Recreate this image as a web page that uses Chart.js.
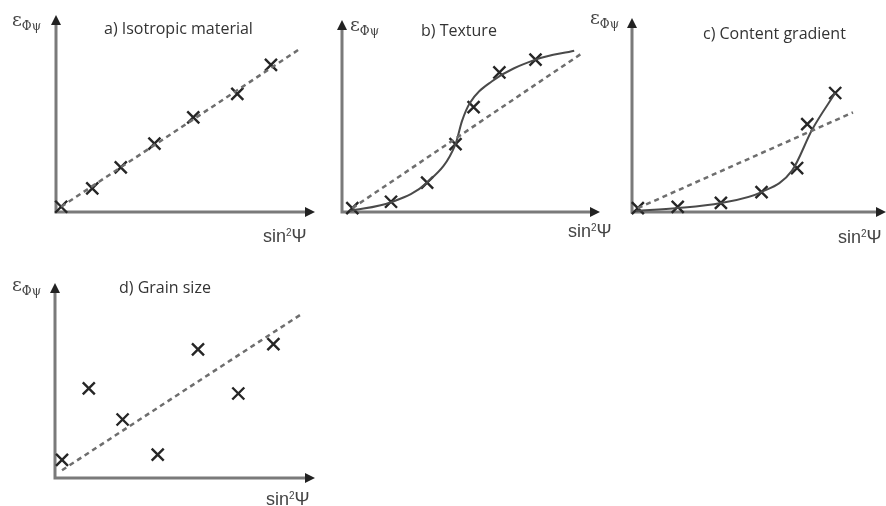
<!DOCTYPE html>
<html>
<head>
<meta charset="utf-8">
<script src="https://cdn.jsdelivr.net/npm/chart.js@4/dist/chart.umd.min.js"></script>
<style>
  body { margin: 0; background: #fff; width: 886px; height: 506px; position: relative; overflow: hidden; }
  canvas { position: absolute; }
  .title { position: absolute; font-family: "Open Sans", sans-serif; font-size: 16px; line-height: 22px; color: #333; white-space: nowrap; }
  .eps { position: absolute; font-family: "DejaVu Serif", serif; font-size: 19px; line-height: 22px; color: #444; white-space: nowrap; }
  .eps sub { font-size: 12px; vertical-align: -4px; }
  .sin { position: absolute; font-family: "Liberation Sans", sans-serif; font-size: 18px; line-height: 22px; color: #444; white-space: nowrap; }
  .sin sup { font-size: 10px; vertical-align: 6px; }
</style>
</head>
<body>

<canvas id="chartA" width="330" height="240" style="left:0;top:0"></canvas>
<canvas id="chartB" width="300" height="240" style="left:320px;top:0"></canvas>
<canvas id="chartC" width="300" height="240" style="left:610px;top:0"></canvas>
<canvas id="chartD" width="330" height="240" style="left:0;top:260px"></canvas>

<div class="title" style="left:104px;top:17px">a) Isotropic material</div>
<div class="title" style="left:421px;top:19px">b) Texture</div>
<div class="title" style="left:703px;top:22px">c) Content gradient</div>
<div class="title" style="left:119px;top:276px">d) Grain size</div>

<div class="eps" style="left:12px;top:8px">ε<sub>Φψ</sub></div>
<div class="eps" style="left:350px;top:13px">ε<sub>Φψ</sub></div>
<div class="eps" style="left:590px;top:6px">ε<sub>Φψ</sub></div>
<div class="eps" style="left:12px;top:273px">ε<sub>Φψ</sub></div>

<div class="sin" style="left:263px;top:222px">sin<sup>2</sup>Ψ</div>
<div class="sin" style="left:568px;top:217px">sin<sup>2</sup>Ψ</div>
<div class="sin" style="left:838px;top:223px">sin<sup>2</sup>Ψ</div>
<div class="sin" style="left:266px;top:485px">sin<sup>2</sup>Ψ</div>

<script>
// axis ranges (arbitrary units, sin²Ψ and strain)
const xMax = 10;
const yMax = 7.5;

// a) Isotropic material
const isoX = [0.2, 1.4, 2.5, 3.8, 5.3, 7.0, 8.3];
const isoY = [0.2, 0.9, 1.7, 2.6, 3.6, 4.5, 5.6];
const isoFitX = [0.2, 9.4];
const isoFitY = [0.2, 6.2];

// b) Texture
const texX = [0.4, 1.9, 3.3, 4.4, 5.1, 6.1, 7.5];
const texY = [0.15, 0.4, 1.15, 2.65, 4.1, 5.45, 5.95];
const texFitX = [0.4, 9.3];
const texFitY = [0.15, 6.2];
const texCurveX = [0.3, 1.9, 3.3, 4.4, 4.65, 4.95, 5.8, 7.5, 9.0];
const texCurveY = [0.04, 0.38, 1.15, 2.65, 3.55, 4.25, 5.1, 5.95, 6.3];

// c) Content gradient
const gradX = [0.23, 1.8, 3.5, 5.1, 6.5, 6.9, 8.0];
const gradY = [0.15, 0.2, 0.35, 0.77, 1.7, 3.4, 4.6];
const gradFitX = [0.23, 8.7];
const gradFitY = [0.15, 3.85];
const gradCurveX = [0.15, 1.8, 3.5, 5.1, 6.3, 7.1, 8.0];
const gradCurveY = [0.04, 0.15, 0.35, 0.77, 1.6, 3.2, 4.6];

// d) Grain size
const grainX = [0.27, 1.3, 2.6, 3.95, 5.5, 7.05, 8.4];
const grainY = [0.7, 3.45, 2.25, 0.9, 4.95, 3.25, 5.15];
const grainFitX = [0.27, 9.55];
const grainFitY = [0.3, 6.35];

const toPoints = (xs, ys) => xs.map((x, i) => ({ x, y: ys[i] }));

// Axes with arrow heads, drawn from the chart's own scales
const arrowAxes = {
  id: "arrowAxes",
  beforeDatasetsDraw(chart) {
    const { ctx, scales: { x, y } } = chart;
    const x0 = x.getPixelForValue(0), y0 = y.getPixelForValue(0);
    const x1 = x.getPixelForValue(xMax), y1 = y.getPixelForValue(yMax);
    ctx.save();
    ctx.strokeStyle = "#7a7a7a";
    ctx.lineWidth = 3;
    ctx.beginPath();
    ctx.moveTo(x0, y0 + 1.5);
    ctx.lineTo(x0, y1 + 8);
    ctx.moveTo(x0 - 1.5, y0);
    ctx.lineTo(x1 - 8, y0);
    ctx.stroke();
    ctx.fillStyle = "#222";
    ctx.beginPath();
    ctx.moveTo(x0, y1);
    ctx.lineTo(x0 - 5, y1 + 10);
    ctx.lineTo(x0 + 5, y1 + 10);
    ctx.closePath();
    ctx.fill();
    ctx.beginPath();
    ctx.moveTo(x1, y0);
    ctx.lineTo(x1 - 10, y0 - 5);
    ctx.lineTo(x1 - 10, y0 + 5);
    ctx.closePath();
    ctx.fill();
    ctx.restore();
  }
};

function makeChart(id, pad, markers, fit, curve) {
  const datasets = [];
  datasets.push({
    data: fit, showLine: true, clip: false, borderColor: "#6e6e6e", borderWidth: 2.5,
    borderDash: [5, 4], pointRadius: 0
  });
  if (curve) {
    datasets.push({
      data: curve, showLine: true, clip: false, borderColor: "#4a4a4a", borderWidth: 2,
      cubicInterpolationMode: "monotone", pointRadius: 0
    });
  }
  datasets.push({
    data: markers, showLine: false, clip: false, pointStyle: "crossRot", pointRadius: 8.5,
    pointBorderWidth: 2.4, pointBorderColor: "#262626", pointBackgroundColor: "#262626"
  });
  return new Chart(document.getElementById(id), {
    type: "scatter",
    data: { datasets },
    options: {
      responsive: false,
      animation: false,
      layout: { padding: pad },
      plugins: { legend: { display: false }, tooltip: { enabled: false } },
      scales: {
        x: { type: "linear", min: 0, max: xMax, display: false },
        y: { type: "linear", min: 0, max: yMax, display: false }
      }
    },
    plugins: [arrowAxes]
  });
}

makeChart("chartA", { left: 56, right: 15, top: 15, bottom: 28 },
  toPoints(isoX, isoY), toPoints(isoFitX, isoFitY), null);
makeChart("chartB", { left: 22, right: 20, top: 20, bottom: 28 },
  toPoints(texX, texY), toPoints(texFitX, texFitY), toPoints(texCurveX, texCurveY));
makeChart("chartC", { left: 22, right: 24, top: 18, bottom: 28 },
  toPoints(gradX, gradY), toPoints(gradFitX, gradFitY), toPoints(gradCurveX, gradCurveY));
makeChart("chartD", { left: 55, right: 15, top: 23, bottom: 22 },
  toPoints(grainX, grainY), toPoints(grainFitX, grainFitY), null);
</script>
</body>
</html>
